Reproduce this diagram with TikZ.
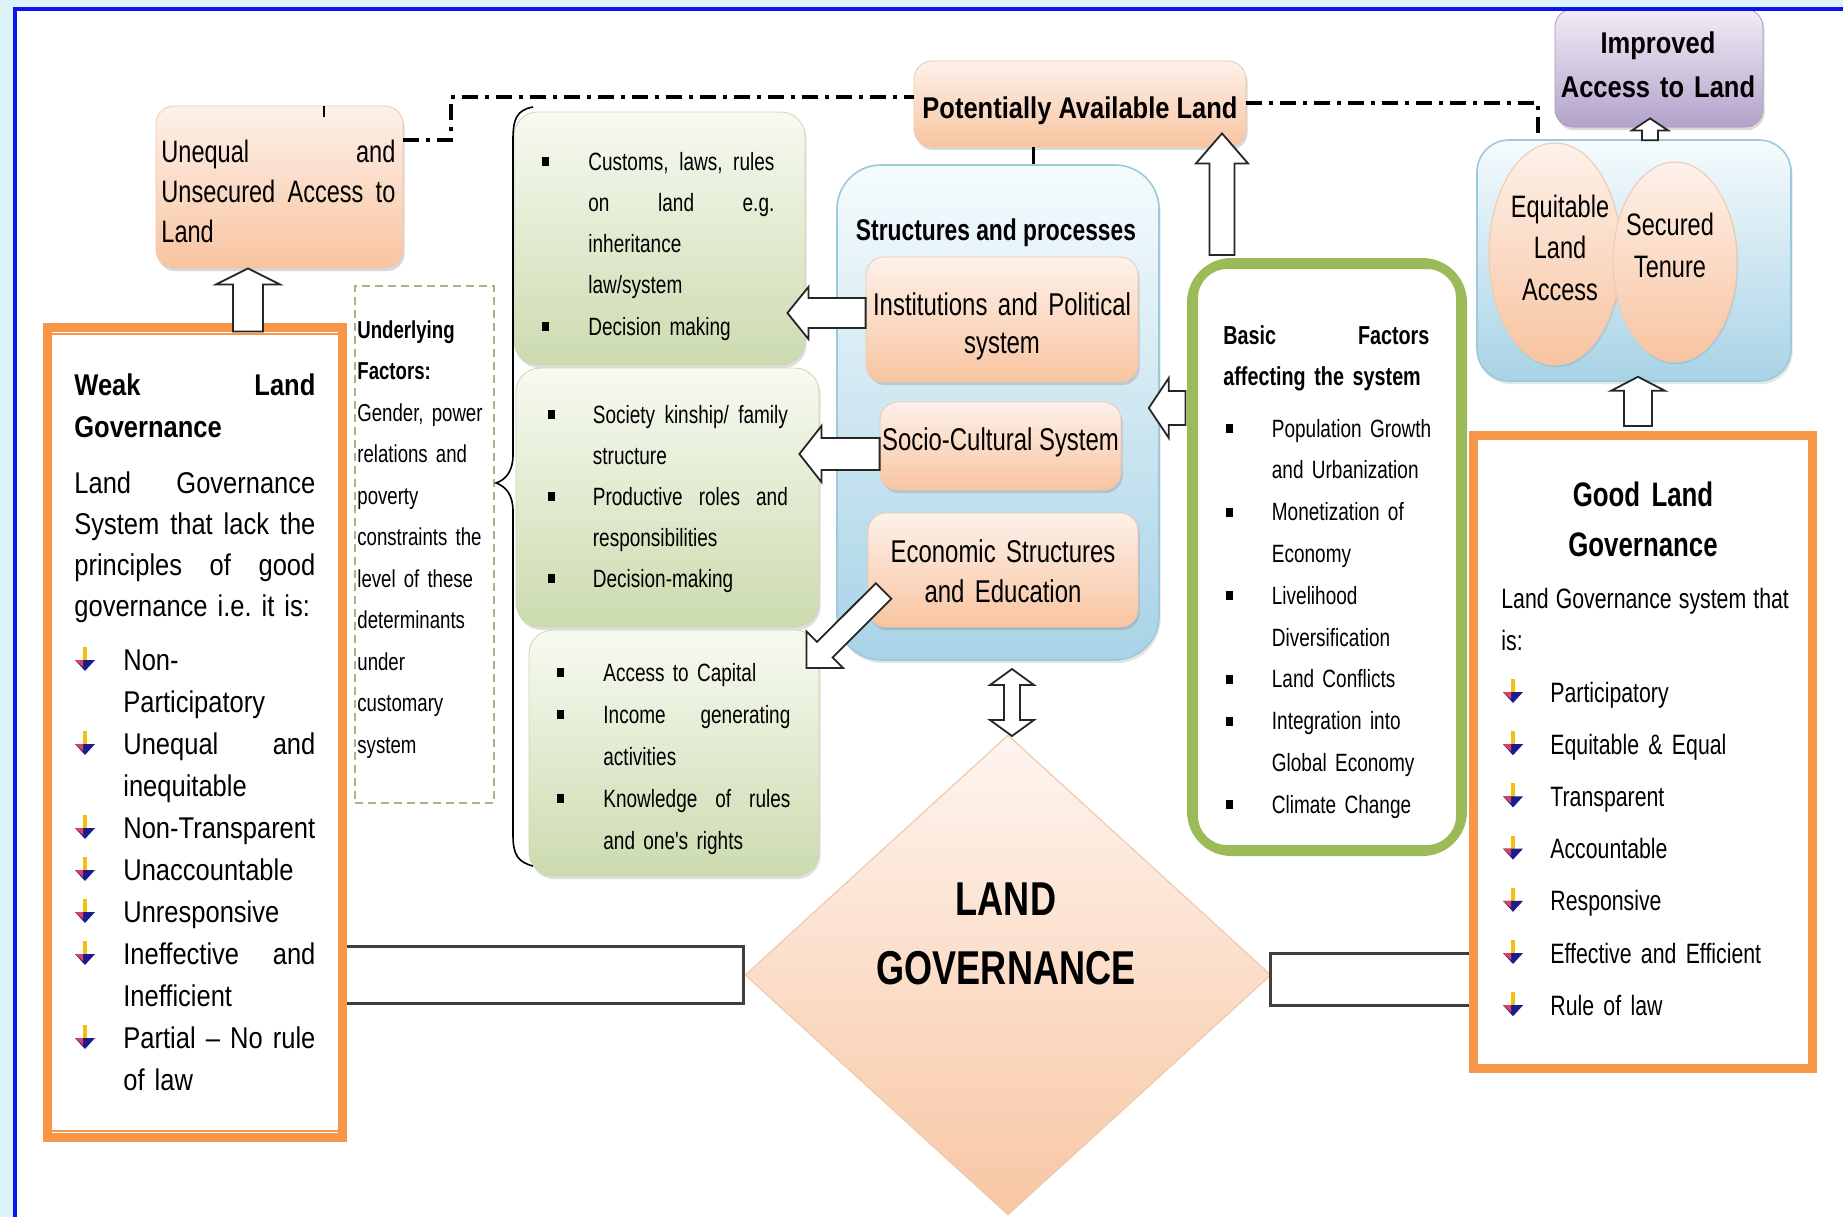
\documentclass[tikz,border=0pt]{standalone}
\usepackage{fontspec}
\setmainfont{Liberation Sans}
\newfontfamily\narrowf{Liberation Sans}[FakeStretch=0.76]
\newfontfamily\midf{Liberation Sans}[FakeStretch=0.85]
\usetikzlibrary{shapes.geometric,shadows,calc}
\frenchspacing

\definecolor{bgblue}{HTML}{DDF3FA}
\definecolor{frameblue}{HTML}{0A12EE}
\definecolor{peachT}{HTML}{FDF1EA}
\definecolor{peachB}{HTML}{F8C4A0}
\definecolor{peachD}{HTML}{EFC9AE}
\definecolor{greenT}{HTML}{F7FAF1}
\definecolor{greenB}{HTML}{CCDBAF}
\definecolor{greenD}{HTML}{C9D8B0}
\definecolor{blueT}{HTML}{F5FBFD}
\definecolor{blueB}{HTML}{A8D3E6}
\definecolor{blueD}{HTML}{9EC9DC}
\definecolor{purpT}{HTML}{F1EDF5}
\definecolor{purpB}{HTML}{B3A2CB}
\definecolor{purpD}{HTML}{A898C0}
\definecolor{orangeB}{HTML}{F79646}
\definecolor{greenL}{HTML}{9BBB59}
\definecolor{dashG}{HTML}{A3B58A}
\definecolor{bulyel}{HTML}{F5BE10}
\definecolor{bulnavy}{HTML}{1C1C8E}
\definecolor{bulred}{HTML}{E0405A}
\definecolor{diaT}{HTML}{FEF5EF}
\definecolor{diaB}{HTML}{F8C6A3}

\newcommand\jline[2]{\makebox[#1][s]{\spaceskip=0.21em plus 1fill\relax #2}}
\newcommand\blockarr[5]{%
  \coordinate (bat) at (#1);%
  \coordinate (bap) at (#2);%
  \coordinate (bah) at ($(bap)!#3!(bat)$);%
  \draw[blockarrow] ($(bat)!#5!90:(bap)$) -- ($(bah)!#5!90:(bap)$) -- ($(bah)!#4!90:(bap)$) -- (bap) -- ($(bah)!#4!-90:(bap)$) -- ($(bah)!#5!-90:(bap)$) -- ($(bat)!#5!-90:(bap)$) -- cycle;%
}

\tikzset{
  sqb/.pic={\fill (-3.5,-13) rectangle (3.5,-4);},
  arrbul/.pic={
    \fill[bulyel] (-2,-23) rectangle (2,-9);
    \fill[bulnavy] (-10,-10) -- (10,-10) -- (0,1) -- cycle;
    \fill[bulred] (-10,-10) -- (-2,-10) -- (-2,-3) -- cycle;
  }
}

\begin{document}
\begin{tikzpicture}[x=0.5pt, y=-0.5pt,
  peachbox/.style={rectangle, rounded corners=9pt, top color=peachT, bottom color=peachB, draw=peachD, line width=0.4pt, inner sep=0pt, drop shadow={opacity=0.3, shadow xshift=0.8pt, shadow yshift=-1.6pt}},
  purpbox/.style={rectangle, rounded corners=9pt, top color=purpT, bottom color=purpB, draw=purpD, line width=0.4pt, inner sep=0pt, drop shadow={opacity=0.3, shadow xshift=0.8pt, shadow yshift=-1.6pt}},
  greenbox/.style={rectangle, rounded corners=12pt, top color=greenT, bottom color=greenB, draw=greenD, line width=0.4pt, inner sep=0pt, drop shadow={opacity=0.25, shadow xshift=0.8pt, shadow yshift=-1.6pt}},
  bluepanel/.style={rectangle, rounded corners=22pt, top color=blueT, bottom color=blueB, draw=blueD, line width=0.8pt, inner sep=0pt, drop shadow={opacity=0.2, shadow xshift=0.8pt, shadow yshift=-1.6pt}},
  peachell/.style={ellipse, top color=peachT, bottom color=peachB, draw=peachD, line width=0.5pt, inner sep=0pt, drop shadow={opacity=0.2, shadow xshift=0.6pt, shadow yshift=-1.2pt}},
  orangebox/.style={rectangle, draw=orangeB, line width=4.5pt, fill=white, inner sep=0pt},
  dashbox/.style={rectangle, draw=dashG, line width=0.7pt, dash pattern=on 4pt off 2.5pt, inner sep=0pt},
  blockarrow/.style={draw=black!85, fill=white, line width=0.9pt, line join=miter},
  dashdotline/.style={line width=1.8pt, dash pattern=on 8pt off 3.5pt on 2pt off 3.5pt},
  barline/.style={draw=black!75, line width=1.5pt},
  txt/.style={inner sep=0pt, anchor=base west, align=left},
  txtc/.style={inner sep=0pt, anchor=base, align=center}
]
\useasboundingbox (0,0) rectangle (1843,1217);
% background
\fill[bgblue] (0,0) rectangle (1843,1217);
\fill[white] (15,9) rectangle (1843,1217);

% panels
\node[bluepanel, minimum width=161pt, minimum height=247.5pt] (sp) at (998,412.5) {};
\node[bluepanel, rounded corners=16pt, minimum width=157pt, minimum height=120.5pt] (rbp) at (1634,260.5) {};

% diamond
\node[diamond, top color=diaT, bottom color=diaB, draw=peachD, line width=0.6pt, minimum width=263pt, minimum height=240pt, inner sep=0pt] (lgov) at (1008,975) {};

% bars
\coordinate (lb1) at (347,946); \coordinate (lb2) at (743,1003);
\fill[white] (lb1) rectangle (lb2);
\draw[barline] (lb1) -- (lb1 -| lb2) -- (lb2) -- (lb2 -| lb1);
\coordinate (rb1) at (1469,953); \coordinate (rb2) at (1270,1005);
\fill[white] (rb1) rectangle (rb2);
\draw[barline] (rb1) -- (rb1 -| rb2) -- (rb2) -- (rb2 -| rb1);

% boxes
\node[peachbox, minimum width=123.5pt, minimum height=81pt] (uneq) at (279.5,187) {};
\node[peachbox, minimum width=166pt, minimum height=43pt] (pal) at (1080,104) {};
\node[purpbox, minimum width=104pt, minimum height=59pt] (impr) at (1659,68) {};
\node[greenbox, minimum width=145.5pt, minimum height=126.5pt] (g1) at (659.5,238.5) {};
\node[greenbox, minimum width=151.5pt, minimum height=129.5pt] (g2) at (667.5,497.5) {};
\node[greenbox, minimum width=145pt, minimum height=123pt] (g3) at (674,753) {};
\node[dashbox, minimum width=69.5pt, minimum height=258.5pt] (und) at (424.5,544.5) {};
\node[peachbox, minimum width=136pt, minimum height=62.5pt] (inst) at (1002,319.5) {};
\node[peachbox, minimum width=120.5pt, minimum height=44pt] (socio) at (1000.5,446) {};
\node[peachbox, minimum width=135pt, minimum height=57pt] (econ) at (1003,570) {};
\node[peachell, minimum width=66pt, minimum height=111pt] (eq) at (1555,254) {};
\node[peachell, minimum width=62pt, minimum height=100pt] (sec) at (1675,262) {};

\node[rectangle, draw=greenL, fill=white, line width=4.5pt, rounded corners=20pt, minimum width=135.5pt, minimum height=294.5pt, inner sep=0pt] (basic) at (1327,557) {};
\draw[greenL, line width=1pt, rounded corners=15pt] ($(basic.north west)+(10,10)$) rectangle ($(basic.south east)+(-10,-10)$);

\node[orangebox, minimum width=147.5pt, minimum height=405pt] (weak) at (195,732.5) {};
\draw[orangeB, line width=1pt] ($(weak.north west)+(7,11)$) rectangle ($(weak.south east)+(-7,-11)$);
\node[orangebox, minimum width=169.5pt, minimum height=316.5pt] (good) at (1643,752) {};
\draw[orangeB, line width=1pt] ($(good.north west)+(8,8)$) rectangle ($(good.south east)+(-8,-8)$);

% brace
\draw[line width=0.8pt] (533,107) .. controls (516,110) and (513,120) .. (513,140) -- (513,455) .. controls (513,472) and (505,480) .. (496,483) .. controls (505,486) and (513,494) .. (513,511) -- (513,835) .. controls (513,855) and (518,862) .. (533,866);

% dash-dot lines and connectors
\coordinate (dl1) at (451,140); \coordinate (dl2) at (451,97);
\coordinate (dr1) at (1538,103); \coordinate (dr2) at (1538,140);
\draw[dashdotline] (uneq.east |- dl1) -- (dl1) -- (dl2) -- (pal.west |- dl2);
\draw[dashdotline] (pal.east |- dr1) -- (dr1) -- (dr2);
\draw[line width=0.8pt] ($(uneq.north)+(44.5,0)$) -- ($(uneq.north)+(44.5,11)$);
\draw[line width=1.5pt] ($(pal.south)+(-47,0)$) -- ($(sp.north)+(35,0)$);

% block arrows
\blockarr{$(uneq.south)+(-31.5,63)$}{$(uneq.south)+(-31.5,0)$}{8pt}{16pt}{7.5pt}
\blockarr{$(basic.north)+(-105,-3)$}{$(pal.south)+(142,-14)$}{15pt}{13pt}{6.25pt}
\blockarr{$(rbp.north)+(16,1)$}{$(impr.south)+(-9,-9)$}{6pt}{9pt}{4pt}
\blockarr{$(good.north)+(-5,-5)$}{$(rbp.south)+(4,-5)$}{7pt}{13.5pt}{7pt}
\blockarr{$(inst.west)+(0,-6.5)$}{$(g1.east)+(-18,74.5)$}{10.5pt}{13pt}{7.5pt}
\blockarr{$(socio.west)+(0,8)$}{$(g2.east)+(-20,-43.5)$}{11pt}{14pt}{8pt}
\blockarr{$(econ.west)+(16,21)$}{$(g3.east)+(-13,-85)$}{13pt}{13pt}{5.5pt}
\blockarr{$(basic.west)+(-1.5,-149)$}{$(sp.east)+(-11,-4.5)$}{10pt}{15pt}{8.5pt}
\draw[blockarrow] (1012,669) -- (1034,685) -- (1020,685) -- (1020,720) -- (1034,720) -- (1012,736) -- (990,720) -- (1004,720) -- (1004,685) -- (990,685) -- cycle;

% texts
\node[txt, text width=117pt, font=\narrowf\fontsize{15.5pt}{20pt}\selectfont] (uneqt) at (161,162) {\jline{117pt}{Unequal and}\\\jline{117pt}{Unsecured Access to}\\Land};
\node[inner sep=0pt, anchor=base, font=\midf\bfseries\fontsize{15pt}{18pt}\selectfont] (palt) at (1080,118) {Potentially Available Land};
\node[txtc, text width=100pt, font=\midf\bfseries\fontsize{15pt}{22pt}\selectfont] (imprt) at (1658,53) {Improved\\Access to Land};

\node[txt, text width=120.5pt, font=\midf\bfseries\fontsize{15pt}{21pt}\selectfont] (weakt) at (74,395) {\jline{120.5pt}{Weak Land}\\Governance};
\node[txt, text width=120.5pt, font=\midf\fontsize{15pt}{20.5pt}\selectfont] (weakb) at (74,493) {\jline{120.5pt}{Land Governance}\\\jline{120.5pt}{System that lack the}\\\jline{120.5pt}{principles of good}\\governance i.e. it is:};
\node[txt, text width=96pt, font=\midf\fontsize{15pt}{21pt}\selectfont] (weakl) at (123,670) {Non-\\Participatory\\\jline{96pt}{Unequal and}\\inequitable\\Non-Transparent\\Unaccountable\\Unresponsive\\\jline{96pt}{Ineffective and}\\Inefficient\\\jline{96pt}{Partial – No rule}\\of law};
\foreach \yy in {670,754,838,880,922,964,1048} {\pic at (85,\yy) {arrbul};}

\node[txt, text width=68pt, font=\narrowf\fontsize{12.25pt}{20.75pt}\selectfont] (undt) at (357,338) {\textbf{Underlying}\\\textbf{Factors:}\\Gender, power\\relations and\\poverty\\constraints the\\level of these\\determinants\\under\\customary\\system};

\node[txt, text width=93pt, font=\narrowf\fontsize{12.5pt}{20.65pt}\selectfont] (g1t) at (588,170) {\jline{93pt}{Customs, laws, rules}\\\jline{93pt}{on land e.g.}\\inheritance\\law/system\\Decision making};
\foreach \yy in {170,335.2} {\pic at (545,\yy) {sqb};}
\node[txt, text width=97.5pt, font=\narrowf\fontsize{12.5pt}{20.5pt}\selectfont] (g2t) at (592.5,423) {\jline{97.5pt}{Society kinship/ family}\\structure\\\jline{97.5pt}{Productive roles and}\\responsibilities\\Decision-making};
\foreach \yy in {423,505,587} {\pic at (551,\yy) {sqb};}
\node[txt, text width=93.5pt, font=\narrowf\fontsize{12.5pt}{21pt}\selectfont] (g3t) at (603,681) {Access to Capital\\\jline{93.5pt}{Income generating}\\activities\\\jline{93.5pt}{Knowledge of rules}\\and one's rights};
\foreach \yy in {681,723,807} {\pic at (560,\yy) {sqb};}

\node[inner sep=0pt, anchor=base, font=\narrowf\bfseries\fontsize{15pt}{18pt}\selectfont] (spt) at (996,240) {Structures and processes};
\node[txtc, text width=132pt, font=\narrowf\fontsize{15.75pt}{19pt}\selectfont] (instt) at (1002,315) {Institutions and Political\\system};
\node[inner sep=0pt, anchor=base, font=\narrowf\fontsize{15.75pt}{19pt}\selectfont] (sociot) at (1000.5,450) {Socio-Cultural System};
\node[txtc, text width=132pt, font=\narrowf\fontsize{15.75pt}{20pt}\selectfont] (econt) at (1003,562) {Economic Structures\\and Education};

\node[txtc, text width=60pt, font=\narrowf\fontsize{15.5pt}{20.75pt}\selectfont] (eqt) at (1560,217) {Equitable\\Land\\Access};
\node[txtc, text width=56pt, font=\narrowf\fontsize{15.5pt}{21pt}\selectfont] (sect) at (1670,235) {Secured\\Tenure};

\node[txt, text width=103pt, font=\narrowf\bfseries\fontsize{13pt}{20.5pt}\selectfont] (basict) at (1223,344) {\jline{103pt}{Basic Factors}\\affecting the system};
\node[txt, text width=95pt, font=\narrowf\fontsize{12.5pt}{20.9pt}\selectfont] (basicl) at (1271.5,437) {Population Growth\\and Urbanization\\Monetization of\\Economy\\Livelihood\\Diversification\\Land Conflicts\\Integration into\\Global Economy\\Climate Change};
\foreach \yy in {437,520.6,604.2,687.8,729.6,813.2} {\pic at (1229,\yy) {sqb};}

\node[txtc, text width=160pt, font=\narrowf\bfseries\fontsize{17pt}{25pt}\selectfont] (goodt) at (1643,506) {Good Land\\Governance};
\node[txt, text width=143.75pt, font=\narrowf\fontsize{14pt}{21pt}\selectfont] (goodb) at (1501,608) {\jline{143.75pt}{Land Governance system that}\\is:};
\node[txt, text width=125pt, font=\narrowf\fontsize{14pt}{26.1pt}\selectfont] (goodl) at (1550,702) {Participatory\\Equitable \& Equal\\Transparent\\Accountable\\Responsive\\Effective and Efficient\\Rule of law};
\foreach \yy in {702,754.2,806.4,858.6,910.8,963,1015.2} {\pic at (1513,\yy) {arrbul};}

\node[txtc, text width=160pt, font=\narrowf\bfseries\fontsize{23.75pt}{34.5pt}\selectfont] (lgovt) at (1006,915) {LAND\\GOVERNANCE};

% frame
\draw[frameblue, line width=2pt] (15,1217) -- (15,9) -- (1843,9);
\end{tikzpicture}
\end{document}
